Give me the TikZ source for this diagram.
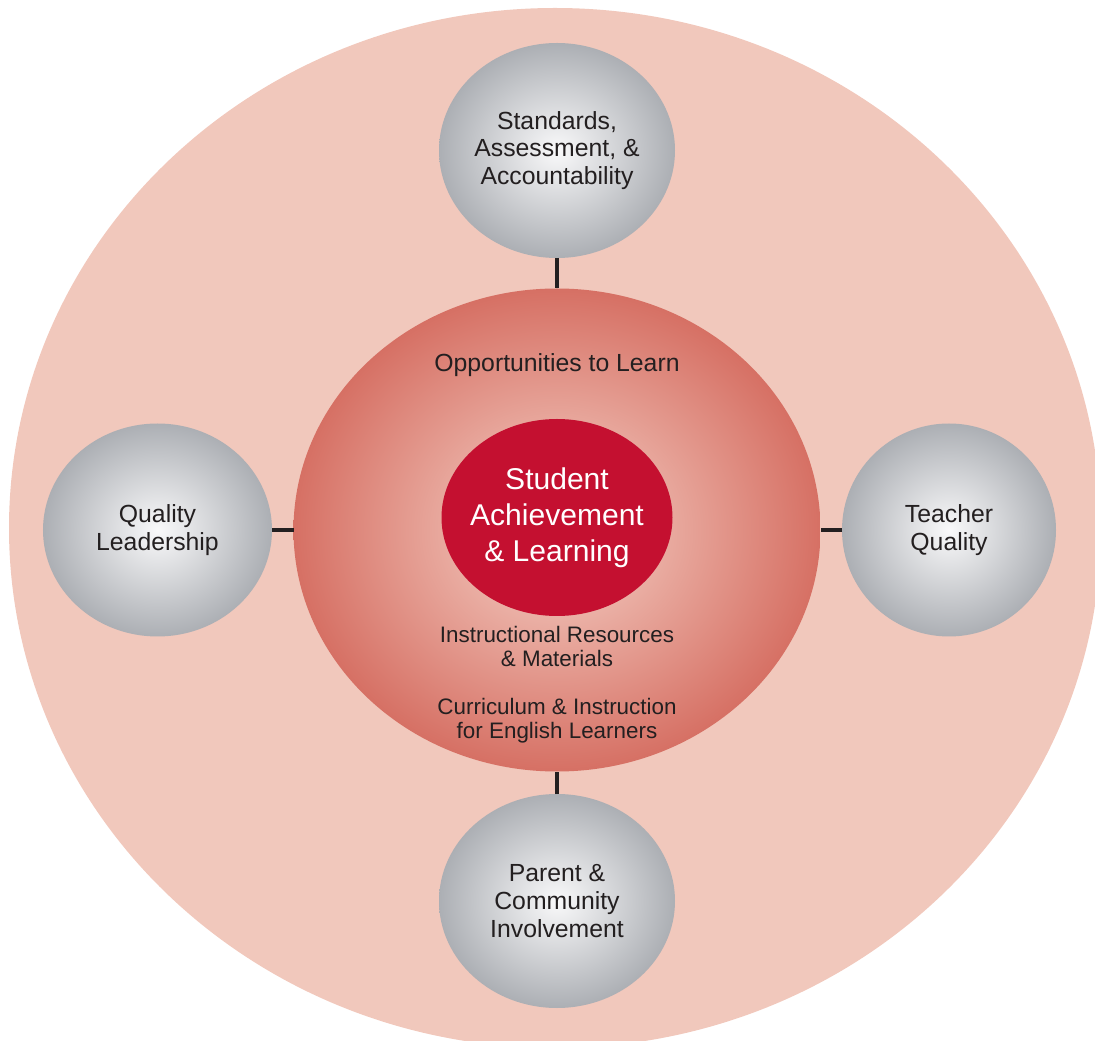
\documentclass[tikz,border=0pt]{standalone}
\usepackage{fontspec}
\setsansfont{Liberation Sans}
\usepackage{tikz}
\usetikzlibrary{shapes.geometric}
\definecolor{ringpink}{RGB}{241,200,188}
\definecolor{ringdark}{RGB}{214,112,100}
\definecolor{ringlight}{RGB}{246,212,202}
\definecolor{corered}{RGB}{196,16,48}
\definecolor{ballgray}{RGB}{172,175,180}
\definecolor{ballwhite}{RGB}{249,249,250}
\definecolor{ink}{RGB}{35,31,32}
\tikzset{every picture/.prefix style={execute at begin picture={\sffamily}},
         every node/.append style={execute at begin node={\sffamily}}}

\begin{document}
\begin{tikzpicture}[bub/.style={ellipse,inner sep=0pt,outer sep=0pt,inner color=ballwhite,outer color=ballgray,text=ink,align=center,font=\fontsize{14.1}{15.7}\selectfont},
 note/.style={text=ink,align=center,inner sep=0pt,font=\fontsize{12.75}{13.8}\selectfont},
 link/.style={draw=ink,line width=2pt}]
\clip (0,0) rectangle (21.9,20.8);
\fill[ringpink] (11.1,10.24) ellipse [x radius=10.92,y radius=10.4];
% ring and core
\node[ellipse,inner sep=0pt,outer sep=0pt,minimum width=10.54cm,minimum height=9.66cm,inner color=ringlight,outer color=ringdark] (otl) at (11.14,10.2) {};
\node[ellipse,inner xsep=-1.2mm,inner ysep=0pt,minimum width=4.62cm,minimum height=3.94cm,fill=corered,text=white,align=center,font=\fontsize{17.1}{20.6}\selectfont] (ach) at (11.14,10.45) {Student\\ Achievement\\ \& Learning};
\node[note,anchor=base,font=\fontsize{14.1}{15.7}\selectfont] (opp) at (11.14,13.37) {Opportunities to Learn};
\node[note] (irm) at (11.14,7.87) {Instructional Resources\\ \& Materials};
\node[note] (cie) at (11.14,6.39) {Curriculum \& Instruction\\ for English Learners};
% the four outer factors
\node[bub,minimum width=4.72cm,minimum height=4.3cm] (std) at (11.14,17.79) {Standards,\\ Assessment, \&\\ Accountability};
\node[bub,minimum width=4.58cm,minimum height=4.26cm] (ldr) at (3.15,10.2) {Quality\\ Leadership};
\node[bub,minimum width=4.28cm,minimum height=4.26cm] (tch) at (18.98,10.2) {Teacher\\ Quality};
\node[bub,minimum width=4.72cm,minimum height=4.28cm] (par) at (11.14,2.78) {Parent \&\\ Community\\ Involvement};
\draw[link] (std) -- (otl); \draw[link] (par) -- (otl);
\draw[link] (ldr) -- (otl); \draw[link] (tch) -- (otl);
\end{tikzpicture}
\end{document}
